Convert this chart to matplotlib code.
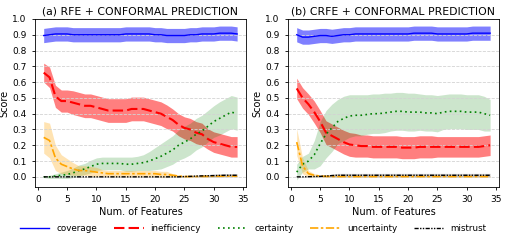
import matplotlib
matplotlib.use("Agg")
import matplotlib.pyplot as plt
import numpy as np

# number of features
feats = np.arange(1, 35)

# ---- (a) RFE + conformal prediction ----
a_cov = [0.895, 0.90, 0.905, 0.905, 0.905, 0.90, 0.90, 0.90, 0.90, 0.90, 0.90, 0.90,
         0.90, 0.90, 0.905, 0.905, 0.905, 0.905, 0.905, 0.90, 0.90, 0.895, 0.895, 0.895,
         0.895, 0.90, 0.90, 0.905, 0.905, 0.905, 0.91, 0.91, 0.91, 0.905]
a_cov_sd = [0.045] * 34
a_ineff = [0.66, 0.63, 0.51, 0.48, 0.48, 0.47, 0.46, 0.45, 0.45, 0.44, 0.43, 0.42,
           0.42, 0.42, 0.42, 0.43, 0.43, 0.43, 0.42, 0.41, 0.40, 0.38, 0.36, 0.33,
           0.31, 0.30, 0.28, 0.27, 0.24, 0.22, 0.21, 0.20, 0.19, 0.19]
a_ineff_sd = [0.06, 0.065, 0.07, 0.07, 0.07, 0.075, 0.075, 0.075, 0.075, 0.075, 0.075, 0.075,
              0.075, 0.075, 0.075, 0.075, 0.075, 0.075, 0.075, 0.075, 0.075, 0.075, 0.07, 0.07,
              0.07, 0.07, 0.07, 0.07, 0.065, 0.065, 0.065, 0.065, 0.065, 0.065]
a_cert = [0.0, 0.0, 0.005, 0.01, 0.015, 0.025, 0.04, 0.05, 0.065, 0.08, 0.085, 0.085,
          0.085, 0.085, 0.08, 0.08, 0.085, 0.09, 0.10, 0.115, 0.13, 0.15, 0.17, 0.20,
          0.22, 0.24, 0.27, 0.29, 0.32, 0.35, 0.37, 0.39, 0.41, 0.40]
a_cert_sd = [0.005, 0.01, 0.015, 0.02, 0.025, 0.03, 0.035, 0.035, 0.04, 0.04, 0.04, 0.04,
             0.04, 0.04, 0.045, 0.045, 0.045, 0.05, 0.06, 0.07, 0.08, 0.085, 0.09, 0.095,
             0.10, 0.10, 0.10, 0.10, 0.10, 0.10, 0.105, 0.105, 0.105, 0.105]
a_unc = [0.25, 0.23, 0.12, 0.08, 0.065, 0.05, 0.04, 0.04, 0.035, 0.03, 0.025, 0.02,
         0.02, 0.02, 0.02, 0.02, 0.02, 0.02, 0.02, 0.02, 0.015, 0.015, 0.01, 0.005,
         0.002, 0.002, 0.002, 0.003, 0.003, 0.004, 0.004, 0.005, 0.005, 0.005]
a_unc_sd = [0.10, 0.11, 0.08, 0.06, 0.05, 0.04, 0.03, 0.03, 0.03, 0.03, 0.02, 0.02,
            0.02, 0.02, 0.02, 0.02, 0.02, 0.02, 0.02, 0.02, 0.02, 0.02, 0.01, 0.008,
            0.005, 0.005, 0.005, 0.005, 0.005, 0.005, 0.005, 0.005, 0.005, 0.005]
a_mis = [0.0] * 24 + [0.002, 0.003, 0.005, 0.006, 0.007, 0.008, 0.009, 0.01, 0.01, 0.01]
a_mis_sd = [0.002] * 24 + [0.004, 0.005, 0.006, 0.007, 0.008, 0.009, 0.01, 0.01, 0.01, 0.01]

# ---- (b) CRFE + conformal prediction ----
b_cov = [0.90, 0.885, 0.885, 0.89, 0.895, 0.895, 0.89, 0.895, 0.90, 0.90, 0.905, 0.905,
         0.905, 0.905, 0.905, 0.905, 0.905, 0.905, 0.905, 0.905, 0.91, 0.91, 0.91, 0.91,
         0.905, 0.905, 0.905, 0.905, 0.905, 0.905, 0.91, 0.91, 0.91, 0.91]
b_cov_sd = [0.045] * 34
b_ineff = [0.56, 0.50, 0.46, 0.41, 0.35, 0.28, 0.26, 0.24, 0.22, 0.205, 0.20, 0.195,
           0.195, 0.19, 0.19, 0.19, 0.19, 0.19, 0.185, 0.185, 0.185, 0.19, 0.19, 0.19,
           0.19, 0.19, 0.19, 0.19, 0.19, 0.19, 0.19, 0.19, 0.195, 0.20]
b_ineff_sd = [0.065, 0.065, 0.065, 0.07, 0.07, 0.075, 0.075, 0.075, 0.075, 0.075, 0.075, 0.07,
              0.07, 0.07, 0.07, 0.07, 0.07, 0.07, 0.07, 0.07, 0.07, 0.07, 0.07, 0.07,
              0.065, 0.065, 0.065, 0.065, 0.065, 0.065, 0.065, 0.065, 0.065, 0.065]
b_cert = [0.03, 0.08, 0.10, 0.14, 0.21, 0.27, 0.31, 0.35, 0.37, 0.385, 0.39, 0.39,
          0.395, 0.40, 0.40, 0.405, 0.41, 0.415, 0.415, 0.41, 0.41, 0.41, 0.405, 0.405,
          0.40, 0.41, 0.415, 0.415, 0.415, 0.41, 0.41, 0.41, 0.40, 0.39]
b_cert_sd = [0.05, 0.05, 0.05, 0.09, 0.14, 0.15, 0.15, 0.14, 0.14, 0.135, 0.13, 0.13,
             0.125, 0.125, 0.125, 0.125, 0.12, 0.12, 0.12, 0.12, 0.12, 0.115, 0.115, 0.115,
             0.115, 0.11, 0.11, 0.11, 0.11, 0.11, 0.11, 0.11, 0.11, 0.10]
b_unc = [0.22, 0.07, 0.02, 0.01, 0.005, 0.003] + [0.002] * 28
b_unc_sd = [0.085, 0.05, 0.02, 0.01, 0.006, 0.005] + [0.004] * 28
b_mis = [0.0, 0.0, 0.001, 0.002, 0.003, 0.005, 0.008] + [0.01] * 27
b_mis_sd = [0.002, 0.002, 0.003, 0.004, 0.005, 0.007, 0.009] + [0.012] * 27

names = ["coverage", "inefficiency", "certainty", "uncertainty", "mistrust"]
colors = ["blue", "red", "green", "orange", "black"]
alphas = [0.5, 0.5, 0.2, 0.3, 0.2]
styles = [dict(ls="-", lw=1.0), dict(ls=(0, (5, 2)), lw=1.5), dict(ls=(0, (1, 2)), lw=1.2),
          dict(ls=(0, (5, 1.5, 1.5, 1.5)), lw=1.2), dict(ls=(0, (3, 1, 1, 1, 1, 1)), lw=1.0)]

panels = [
    ("(a) RFE + CONFORMAL PREDICTION",
     [(a_cov, a_cov_sd), (a_ineff, a_ineff_sd), (a_cert, a_cert_sd), (a_unc, a_unc_sd), (a_mis, a_mis_sd)]),
    ("(b) CRFE + CONFORMAL PREDICTION",
     [(b_cov, b_cov_sd), (b_ineff, b_ineff_sd), (b_cert, b_cert_sd), (b_unc, b_unc_sd), (b_mis, b_mis_sd)]),
]

fig = plt.figure(figsize=(5.06, 2.43), dpi=100)
lefts = [0.069, 0.569]
for (title, series), left in zip(panels, lefts):
    ax = fig.add_axes([left, 0.230, 0.417, 0.692])
    for (m, sd), name, c, al, st in zip(series, names, colors, alphas, styles):
        m = np.array(m)
        sd = np.array(sd)
        ax.fill_between(feats, m - sd, m + sd, color=c, alpha=al, lw=0)
        ax.plot(feats, m, color=c, label=name, **st)
    ax.set_xlim(-0.5, 35.5)
    ax.set_ylim(-0.065, 1.0)
    ax.set_xticks(range(0, 36, 5))
    ax.set_yticks(np.arange(0, 1.01, 0.1))
    ax.yaxis.grid(True, ls="--", color="lightgray", lw=0.6)
    ax.tick_params(labelsize=6.5, length=2.5, width=0.6)
    for s in ax.spines.values():
        s.set_linewidth(0.6)
    ax.set_title(title, fontsize=7.8, pad=3)
    ax.set_xlabel("Num. of Features", fontsize=7, labelpad=2)
    ax.set_ylabel("Score", fontsize=7, labelpad=2)

handles, labels = ax.get_legend_handles_labels()
fig.legend(handles, labels, loc="center", bbox_to_anchor=(0.5, 0.058), ncol=5,
           frameon=False, fontsize=6.3, handlelength=3.4, handletextpad=0.8,
           columnspacing=1.9)

fig.savefig("out.png", dpi=100)
